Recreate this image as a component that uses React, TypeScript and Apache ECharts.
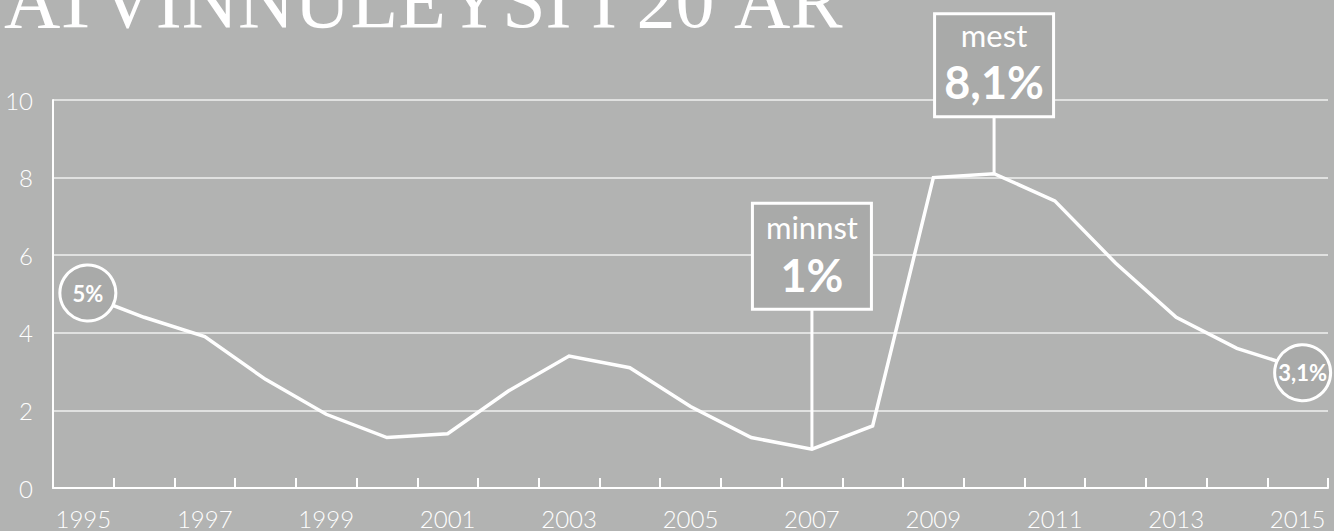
import React, { useEffect, useRef } from "react";
import * as echarts from "echarts";

// ---- data ----
const years = [
  "1995", "1996", "1997", "1998", "1999", "2000", "2001", "2002", "2003", "2004",
  "2005", "2006", "2007", "2008", "2009", "2010", "2011", "2012", "2013", "2014", "2015",
];
const unemployment = [
  5.0, 4.4, 3.9, 2.8, 1.9, 1.3, 1.4, 2.5, 3.4, 3.1,
  2.1, 1.3, 1.0, 1.6, 8.0, 8.1, 7.4, 5.8, 4.4, 3.6, 3.1,
];
const titleText = "ATVINNULEYSI Í 20 ÁR";

const circleYears = ["1995", "2015"];
const circleTexts = ["5%", "3,1%"];

const boxYears = ["2007", "2010"];
const boxTitles = ["minnst", "mest"];
const boxValues = ["1%", "8,1%"];

// ---- layout / style (kept apart from data) ----
const BG = "#b2b3b2";
const FILL = "#a9aaa9";
const WHITE = "#ffffff";
const SANS = "Lato, 'Open Sans', sans-serif";
const circleOffsets = [
  [4.5, -1],
  [5, 5],
];
const boxLayout = [
  { gap: 140, height: 106, titleDy: 24, valueDy: 72 },
  { gap: 57, height: 103, titleDy: 21, valueDy: 68 },
];

export default function App() {
  const ref = useRef<HTMLDivElement>(null);

  useEffect(() => {
    if (!ref.current) return;
    const chart = echarts.init(ref.current, undefined, { renderer: "svg" });

    const circleData = circleYears.map((y) => {
      const i = years.indexOf(y);
      return [i, unemployment[i]];
    });
    const boxData = boxYears.map((y) => {
      const i = years.indexOf(y);
      return [i, unemployment[i]];
    });

    chart.setOption({
      animation: false,
      backgroundColor: BG,
      graphic: [
        {
          type: "text",
          x: 4,
          y: 0,
          silent: true,
          style: {
            text: titleText,
            fill: WHITE,
            fontFamily: "'Liberation Serif', serif",
            fontSize: 78,
            align: "left",
            verticalAlign: "middle",
          },
        },
      ],
      grid: { left: 53, right: 6, top: 100, bottom: 43 },
      xAxis: {
        type: "category",
        data: years,
        boundaryGap: true,
        axisLine: { show: true, lineStyle: { color: WHITE, width: 2 } },
        axisTick: {
          show: true,
          inside: true,
          length: 10,
          interval: 0,
          lineStyle: { color: WHITE, width: 2 },
        },
        axisLabel: {
          interval: 1,
          margin: 18,
          color: WHITE,
          fontFamily: SANS,
          fontWeight: 300,
          fontSize: 24,
        },
        splitLine: { show: false },
      },
      yAxis: {
        type: "value",
        min: 0,
        max: 10,
        interval: 2,
        axisLine: { show: true, lineStyle: { color: WHITE, width: 2 } },
        axisTick: { show: false },
        axisLabel: {
          margin: 20,
          color: WHITE,
          fontFamily: SANS,
          fontWeight: 300,
          fontSize: 24,
          padding: [10, 0, 0, 0],
        },
        splitLine: {
          show: true,
          lineStyle: { color: "rgba(255,255,255,0.8)", width: 1.5 },
        },
      },
      series: [
        {
          type: "line",
          data: unemployment,
          symbol: "none",
          z: 2,
          lineStyle: { color: WHITE, width: 3.5, join: "miter" },
        },
        {
          type: "custom",
          z: 4,
          clip: false,
          data: circleData,
          renderItem: (params: any, api: any) => {
            const i = params.dataIndex;
            const p = api.coord([api.value(0), api.value(1)]);
            const cx = p[0] + circleOffsets[i][0];
            const cy = p[1] + circleOffsets[i][1];
            return {
              type: "group",
              children: [
                {
                  type: "circle",
                  shape: { cx, cy, r: 28 },
                  style: { fill: FILL, stroke: WHITE, lineWidth: 3 },
                },
                {
                  type: "text",
                  x: cx,
                  y: cy,
                  style: {
                    text: circleTexts[i],
                    fill: WHITE,
                    fontFamily: SANS,
                    fontWeight: 700,
                    fontSize: 22,
                    align: "center",
                    verticalAlign: "middle",
                  },
                },
              ],
            };
          },
        },
        {
          type: "custom",
          z: 4,
          clip: false,
          data: boxData,
          renderItem: (params: any, api: any) => {
            const i = params.dataIndex;
            const L = boxLayout[i];
            const p = api.coord([api.value(0), api.value(1)]);
            const w = 119;
            const bottom = p[1] - L.gap;
            const top = bottom - L.height;
            return {
              type: "group",
              children: [
                {
                  type: "line",
                  shape: { x1: p[0], y1: p[1], x2: p[0], y2: bottom },
                  style: { stroke: WHITE, lineWidth: 3 },
                },
                {
                  type: "rect",
                  shape: { x: p[0] - w / 2, y: top, width: w, height: L.height },
                  style: { fill: FILL, stroke: WHITE, lineWidth: 3 },
                },
                {
                  type: "text",
                  x: p[0],
                  y: top + L.titleDy,
                  style: {
                    text: boxTitles[i],
                    fill: WHITE,
                    fontFamily: SANS,
                    fontWeight: 400,
                    fontSize: 31,
                    align: "center",
                    verticalAlign: "middle",
                  },
                },
                {
                  type: "text",
                  x: p[0],
                  y: top + L.valueDy,
                  style: {
                    text: boxValues[i],
                    fill: WHITE,
                    fontFamily: SANS,
                    fontWeight: 700,
                    fontSize: 45,
                    align: "center",
                    verticalAlign: "middle",
                  },
                },
              ],
            };
          },
        },
      ],
    });

    return () => chart.dispose();
  }, []);

  return (
    <div
      ref={ref}
      style={{ position: "fixed", left: 0, top: 0, width: 1334, height: 531 }}
    />
  );
}
